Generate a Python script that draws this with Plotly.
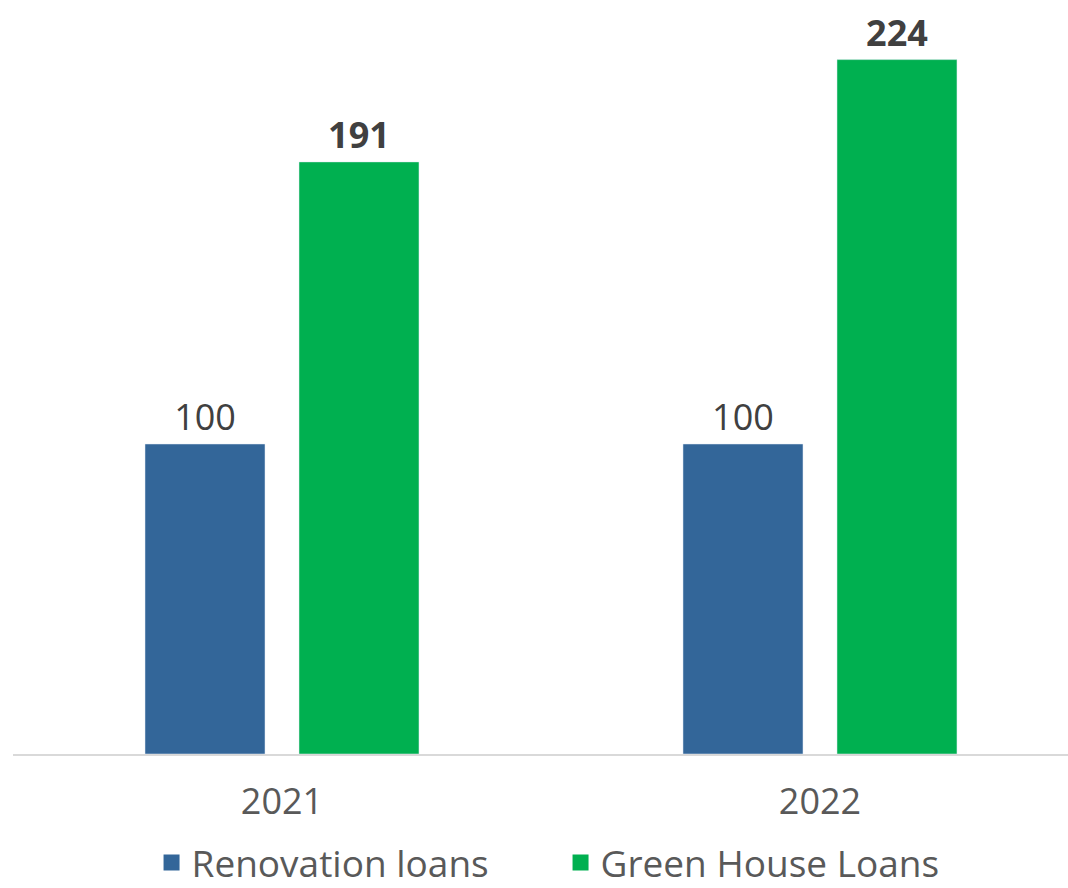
import plotly.graph_objects as go

years = ["2021", "2022"]
renovation = [100, 100]
green_house = [191, 224]
series_names = ["Renovation loans", "Green House Loans"]

BLUE = "#336699"
GREEN = "#00B050"
FONT = "Open Sans"

bar_w = 120 / 538
fig = go.Figure()
fig.add_trace(go.Bar(
    x=years, y=renovation, name=series_names[0], marker_color=BLUE,
    width=bar_w, offset=-137 / 538, text=renovation, textposition="outside",
    texttemplate="%{y}", textfont=dict(family=FONT, size=36, color="#404040"),
    cliponaxis=False, showlegend=False,
))
fig.add_trace(go.Bar(
    x=years, y=green_house, name=series_names[1], marker_color=GREEN,
    width=bar_w, offset=17 / 538, text=green_house, textposition="outside",
    texttemplate="<b>%{y}</b>", textfont=dict(family=FONT, size=36, color="#404040"),
    cliponaxis=False, showlegend=False,
))
# legend entries
for nm, col in zip(series_names, [BLUE, GREEN]):
    fig.add_trace(go.Scatter(
        x=[None], y=[None], mode="markers", name=nm,
        marker=dict(symbol="square", size=20, color=col),
    ))

fig.update_layout(
    width=1068, height=888,
    margin=dict(l=13, r=0, t=0, b=134, autoexpand=False),
    plot_bgcolor="white", paper_bgcolor="white",
    barmode="group",
    font=dict(family=FONT, size=36, color="#595959"),
    showlegend=True,
    legend=dict(orientation="h", x=0.519, xanchor="center", y=-0.1446, yanchor="middle",
                font=dict(family=FONT, size=37, color="#595959"),
                itemwidth=30, entrywidth=364, tracegroupgap=0, borderwidth=0,
                bgcolor="rgba(0,0,0,0)"),
    xaxis=dict(type="category", range=[-0.5, 1.461], showline=True, linecolor="#d9d9d9",
               linewidth=2, showgrid=False, zeroline=False, ticks="",
               ticklabelstandoff=15,
               tickfont=dict(family=FONT, size=36, color="#595959")),
    yaxis=dict(range=[0, 754 / 3.1], visible=False, showgrid=False, zeroline=False),
)
fig.write_html("out.html")
